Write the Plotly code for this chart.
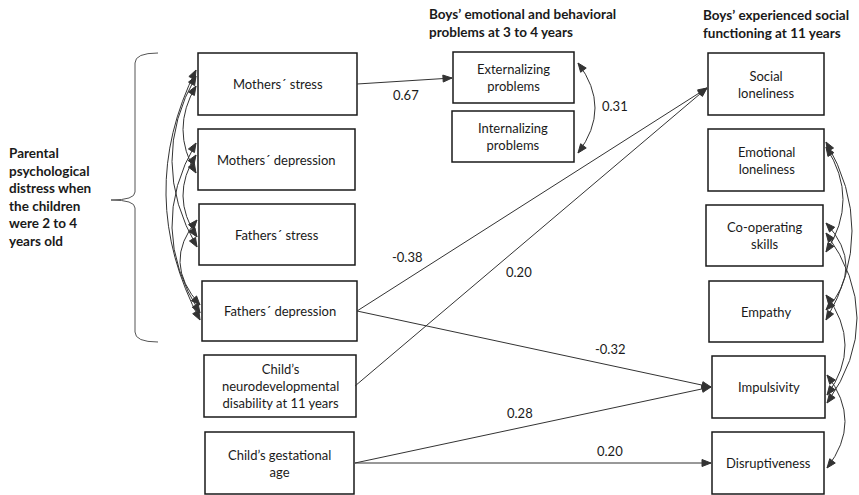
import math
import plotly.graph_objects as go

# ---------------- data ----------------
predictors = ["Mothers´ stress", "Mothers´ depression", "Fathers´ stress", "Fathers´ depression",
              "Child’s<br>neurodevelopmental<br>disability at 11 years", "Child’s gestational<br>age"]
mediators = ["Externalizing<br>problems", "Internalizing<br>problems"]
outcomes = ["Social<br>loneliness", "Emotional<br>loneliness", "Co-operating<br>skills",
            "Empathy", "Impulsivity", "Disruptiveness"]

header_mediators = "Boys’ emotional and behavioral<br>problems at 3 to 4 years"
header_outcomes = "Boys’ experienced social<br>functioning at 11 years"
header_predictors = "Parental<br>psychological<br>distress when<br>the children<br>were 2 to 4<br>years old"

# directed paths (source, target, standardized coefficient)
path_source = ["P0", "P3", "P4", "P3", "P5", "P5"]
path_target = ["M0", "O0", "O0", "O4", "O4", "O5"]
path_coef = [0.67, -0.38, 0.20, -0.32, 0.28, 0.20]

# covariance between mediators
mediator_cov = 0.31

# correlated predictors (parental distress) and outcomes
pred_corr_pairs = [(0, 1), (0, 2), (0, 3), (1, 2), (1, 3), (2, 3)]
outc_corr_pairs = [(1, 2), (1, 3), (2, 3), (2, 4), (3, 4), (4, 5)]

# ---------------- layout (pixel geometry) ----------------
W, H = 859, 495
box_geom = {
    "P0": (198, 53, 357, 115), "P1": (198, 129, 355, 190), "P2": (199, 204, 355, 265),
    "P3": (202, 281, 357, 341), "P4": (204, 355, 356, 417), "P5": (205, 432, 354, 494),
    "M0": (453, 52, 574, 103), "M1": (452, 111, 574, 162),
    "O0": (708, 53, 824, 115), "O1": (708, 129, 824, 191), "O2": (706, 205, 823, 266),
    "O3": (709, 281, 823, 342), "O4": (712, 356, 825, 418), "O5": (712, 432, 824, 494),
}
labels = {}
for i, t in enumerate(predictors):
    labels["P%d" % i] = t
for i, t in enumerate(mediators):
    labels["M%d" % i] = t
for i, t in enumerate(outcomes):
    labels["O%d" % i] = t

path_start = [(357, 84), (357, 311), (355, 386), (357, 311), (355, 463), (355, 463)]
path_end = [(452, 78), (707, 88), (707, 88), (711, 387), (711, 387), (711, 463)]
coef_pos = [(406, 95), (407, 257), (519, 272), (610, 349), (520, 413), (610, 451)]

pred_attach = {(0, 1): (86, 173, 183), (0, 2): (76, 247, 172), (0, 3): (70, 320, 166),
               (1, 2): (155, 237, 183), (1, 3): (143, 313, 172), (2, 3): (220, 305, 180)}
pred_tip_x = [196, 196, 197, 200]
outc_attach = {(1, 2): (147, 252, 843), (1, 3): (142, 320, 852), (2, 3): (223, 310, 846),
               (2, 4): (233, 403, 857), (3, 4): (295, 395, 845), (4, 5): (375, 468, 845)}
outc_tip_x = [826, 826, 826, 826, 827, 827]

LINE = "#333333"
FONT = "Lato, 'Open Sans', sans-serif"

fig = go.Figure()
shapes = []
annotations = []


def arrowhead(tip, frm, length=9, half=3.5):
    dx, dy = tip[0] - frm[0], tip[1] - frm[1]
    n = math.hypot(dx, dy) or 1
    ux, uy = dx / n, dy / n
    bx, by = tip[0] - ux * length, tip[1] - uy * length
    px, py = -uy * half, ux * half
    p = "M %.2f,%.2f L %.2f,%.2f L %.2f,%.2f Z" % (tip[0], tip[1], bx + px, by + py, bx - px, by - py)
    return dict(type="path", path=p, xref="x", yref="y", fillcolor=LINE,
                line=dict(color=LINE, width=1))


def qcurve(p0, c, p2, both=True):
    path = "M %.2f,%.2f Q %.2f,%.2f %.2f,%.2f" % (p0[0], p0[1], c[0], c[1], p2[0], p2[1])
    out = [dict(type="path", path=path, xref="x", yref="y", line=dict(color=LINE, width=1))]
    out.append(arrowhead(p2, c))
    if both:
        out.append(arrowhead(p0, c))
    return out


# boxes
for key, (x0, y0, x1, y1) in box_geom.items():
    shapes.append(dict(type="rect", x0=x0, y0=y0, x1=x1, y1=y1, xref="x", yref="y",
                       line=dict(color="#1a1a1a", width=1.5), fillcolor="white", layer="above"))
    annotations.append(dict(x=(x0 + x1) / 2, y=(y0 + y1) / 2, text=labels[key], showarrow=False,
                            xref="x", yref="y", xanchor="center", yanchor="middle",
                            font=dict(family=FONT, size=13, color="#1a1a1a")))

# directed paths
for s, e, v, lp in zip(path_start, path_end, path_coef, coef_pos):
    shapes.append(dict(type="line", x0=s[0], y0=s[1], x1=e[0], y1=e[1], xref="x", yref="y",
                       line=dict(color=LINE, width=1)))
    shapes.append(arrowhead(e, s))
    annotations.append(dict(x=lp[0], y=lp[1], text="%.2f" % v, showarrow=False, xref="x", yref="y",
                            font=dict(family=FONT, size=13, color="#1a1a1a")))

# mediator covariance
shapes += qcurve((578, 63), (612, 108), (578, 153))
annotations.append(dict(x=615, y=106, text="%.2f" % mediator_cov, showarrow=False, xref="x", yref="y",
                        font=dict(family=FONT, size=13, color="#1a1a1a")))

# predictor correlations (left side)
for (a, b) in pred_corr_pairs:
    ya, yb, peak = pred_attach[(a, b)]
    p0 = (pred_tip_x[a], ya)
    p2 = (pred_tip_x[b], yb)
    cx = 2 * peak - (p0[0] + p2[0]) / 2
    shapes += qcurve(p0, (cx, (ya + yb) / 2), p2)

# outcome correlations (right side)
for (a, b) in outc_corr_pairs:
    ya, yb, peak = outc_attach[(a, b)]
    p0 = (outc_tip_x[a], ya)
    p2 = (outc_tip_x[b], yb)
    cx = 2 * peak - (p0[0] + p2[0]) / 2
    shapes += qcurve(p0, (cx, (ya + yb) / 2), p2)

# brace
brace = ("M 158,53 Q 135,53 135,63 L 135,192 Q 135,200 111,200 Q 135,200 135,208 "
         "L 135,332 Q 135,342 158,342")
shapes.append(dict(type="path", path=brace, xref="x", yref="y", line=dict(color="#555555", width=1)))

# headers
HB = 13.5
annotations.append(dict(x=427, y=23, text="<b>%s</b>" % header_mediators, showarrow=False, xref="x",
                        yref="y", xanchor="left", yanchor="middle", align="left",
                        font=dict(family=FONT, size=HB, color="#1a1a1a")))
annotations.append(dict(x=701, y=24, text="<b>%s</b>" % header_outcomes, showarrow=False, xref="x",
                        yref="y", xanchor="left", yanchor="middle", align="left",
                        font=dict(family=FONT, size=HB, color="#1a1a1a")))
annotations.append(dict(x=7, y=197, text="<b>%s</b>" % header_predictors, showarrow=False, xref="x",
                        yref="y", xanchor="left", yanchor="middle", align="left",
                        font=dict(family=FONT, size=HB, color="#1a1a1a")))

fig.update_layout(
    width=W, height=H, autosize=False,
    margin=dict(l=0, r=0, t=0, b=0, pad=0),
    paper_bgcolor="white", plot_bgcolor="white",
    xaxis=dict(range=[0, W], visible=False, fixedrange=True),
    yaxis=dict(range=[H, 0], visible=False, fixedrange=True),
    shapes=shapes, annotations=annotations, showlegend=False,
)
fig.write_html("out.html", config={"displayModeBar": False},
               post_script="document.body.style.margin='0';document.body.style.overflow='hidden';")
